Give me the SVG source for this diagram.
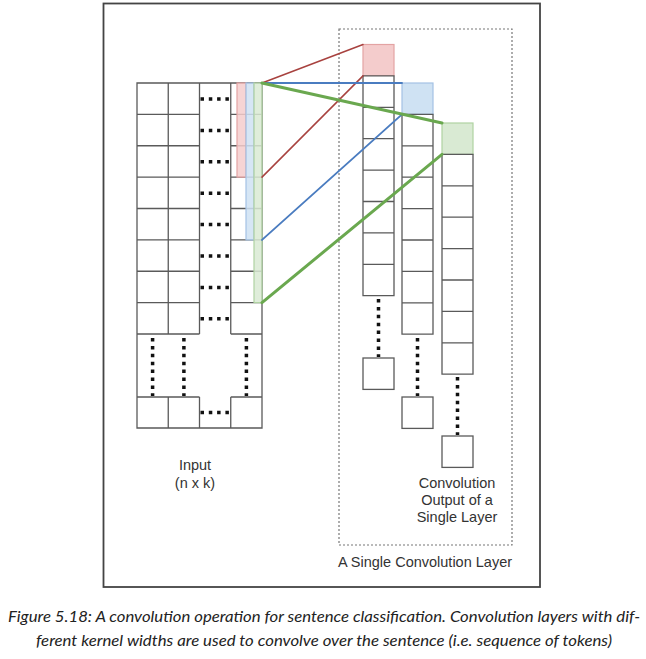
<svg xmlns="http://www.w3.org/2000/svg" width="646" height="659" viewBox="0 0 646 659">
<style>
.g{stroke:#5a5a5a;stroke-width:1.3;fill:none}
.cell{stroke:#5a5a5a;stroke-width:1.3;fill:#fff}
.hd{stroke:#111;stroke-width:3.5;stroke-dasharray:3.5 4.8;fill:none}
.vd{stroke:#111;stroke-width:3.5;stroke-dasharray:3.5 4.4;fill:none}
.lbl{font-family:"Liberation Sans",Arial,sans-serif;font-size:14.5px;fill:#333;text-anchor:middle}
.cap{font-family:Lato,"Open Sans",sans-serif;font-style:italic;font-size:15px;fill:#222}
.red{fill:#f4cccc;stroke:#e3a3a3;stroke-width:1.2}
.blue{fill:#cfe2f3;stroke:#a4c2e4;stroke-width:1.2}
.green{fill:#d9ead3;stroke:#b0d3a2;stroke-width:1.2}
</style>
<rect width="646" height="659" fill="#fff"/>
<rect id="frame" x="103.5" y="3.5" width="436.5" height="583.5" fill="none" stroke="#444" stroke-width="1.8"/>
<g id="layer-box">
<rect x="339" y="29" width="173" height="516" fill="none" stroke="#777" stroke-width="1.2" stroke-dasharray="2 2"/>
<text class="lbl" x="425" y="567">A Single Convolution Layer</text>
</g>
<g id="input">
<path class="g" d="M137,83H262V428H137Z M168.25,83V334 M199.5,83V334 M230.75,83V334 M168.25,397V428 M199.5,397V428 M230.75,397V428
M137,114.4H199.5 M137,145.75H199.5 M137,177.1H199.5 M137,208.5H199.5 M137,239.9H199.5 M137,271.25H199.5 M137,302.6H199.5 M137,334H199.5 M137,397H199.5
M230.75,114.4H262 M230.75,145.75H262 M230.75,177.1H262 M230.75,208.5H262 M230.75,239.9H262 M230.75,271.25H262 M230.75,302.6H262 M230.75,334H262 M230.75,397H262"/>
<path class="hd" d="M200.5,99H229 M200.5,130.5H229 M200.5,161.8H229 M200.5,193.2H229 M200.5,224.6H229 M200.5,256H229 M200.5,287.4H229 M200.5,318.7H229 M200.5,412.5H229"/>
<path class="vd" d="M152.6,338V396 M183.9,338V396 M246.4,338V396"/>
<text class="lbl" x="195" y="470">Input</text>
<text class="lbl" x="195" y="488">(n x k)</text>
</g>
<g id="kernel-red"><rect class="red" x="237" y="83" width="9" height="94.1" fill-opacity="0.85"/></g>
<g id="kernel-blue"><rect class="blue" x="246" y="83" width="8" height="156.9" fill-opacity="0.85"/></g>
<g id="kernel-green"><rect class="green" x="254" y="83" width="8" height="219.6" fill-opacity="0.85"/></g>
<g id="output-red">
<rect class="red" x="363" y="44.5" width="31" height="31.4"/>
<path class="cell" d="M363,75.9H394V295.7H363Z M363,107.3H394 M363,138.7H394 M363,170.1H394 M363,201.5H394 M363,232.9H394 M363,264.3H394"/>
<path class="vd" d="M378.5,299V357"/>
<rect class="cell" x="363" y="358" width="31" height="31.4"/>
</g>
<g id="output-blue">
<rect class="blue" x="402" y="83" width="31" height="31.4"/>
<path class="cell" d="M402,114.4H433V334.2H402Z M402,145.8H433 M402,177.2H433 M402,208.6H433 M402,240H433 M402,271.4H433 M402,302.8H433"/>
<path class="vd" d="M417.5,338V396"/>
<rect class="cell" x="402" y="397" width="31" height="31.4"/>
</g>
<g id="output-green">
<rect class="green" x="442" y="123" width="31" height="31.4"/>
<path class="cell" d="M442,154.4H473V374.2H442Z M442,185.8H473 M442,217.2H473 M442,248.6H473 M442,280H473 M442,311.4H473 M442,342.8H473"/>
<path class="vd" d="M457.5,377V435"/>
<rect class="cell" x="442" y="436" width="31" height="31.4"/>
<text class="lbl" x="457" y="488">Convolution</text>
<text class="lbl" x="457" y="505">Output of a</text>
<text class="lbl" x="457" y="522">Single Layer</text>
</g>
<g id="connectors" fill="none" stroke-linecap="round">
<path d="M262,83L363,44.5 M262,177.1L363,75.9" stroke="#a8423f" stroke-width="1.5"/>
<path d="M262,83H402 M262,239.9L402,114.4" stroke="#4a7cc0" stroke-width="1.9"/>
<path d="M262,83L442,123 M262,302.6L442,154.4" stroke="#6aa84f" stroke-width="3"/>
</g>
<g id="caption">
<text class="cap" x="8" y="622" textLength="632" lengthAdjust="spacingAndGlyphs">Figure 5.18: A convolution operation for sentence classification. Convolution layers with dif-</text>
<text class="cap" x="36" y="646" textLength="576" lengthAdjust="spacingAndGlyphs">ferent kernel widths are used to convolve over the sentence (i.e. sequence of tokens)</text>
</g>
</svg>
